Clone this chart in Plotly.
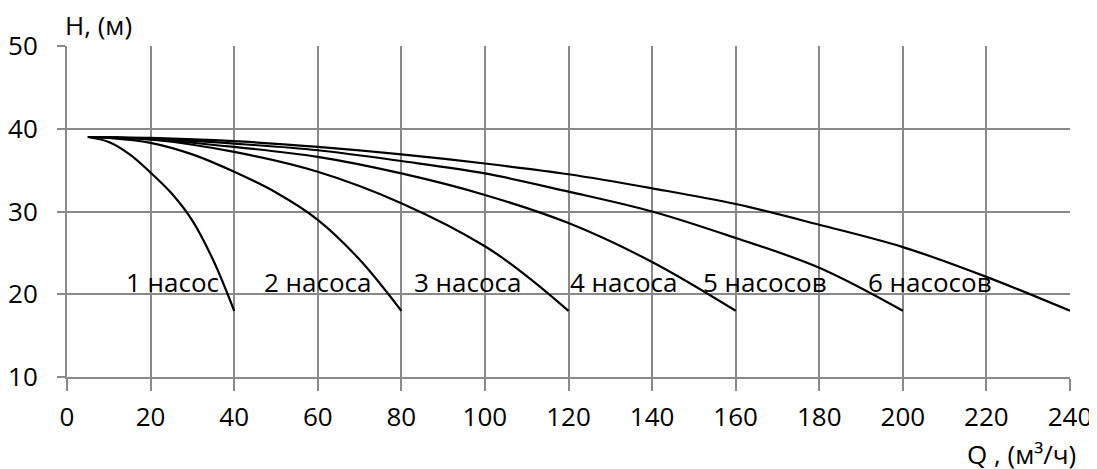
import plotly.graph_objects as go

# Data
q_1 = [5, 10, 15, 20, 25, 30, 35, 40]
h_1 = [39, 38.4, 36.9, 34.7, 32.2, 28.9, 24.1, 18]

q_2 = [5, 10, 20, 30, 40, 50, 60, 70, 80]
h_2 = [39, 38.9, 38.3, 36.9, 34.8, 32.3, 29.0, 24.2, 18]

q_3 = [5, 20, 40, 60, 80, 100, 110, 120]
h_3 = [39, 38.7, 37.2, 34.8, 31.0, 25.8, 22.2, 18]

q_4 = [5, 20, 40, 60, 80, 100, 120, 140, 160]
h_4 = [39, 38.7, 37.8, 36.6, 34.6, 32.0, 28.6, 23.9, 18]

q_5 = [5, 20, 40, 60, 80, 100, 120, 140, 160, 180, 200]
h_5 = [39, 38.8, 38.2, 37.4, 36.1, 34.6, 32.4, 30.0, 26.8, 23.2, 18]

q_6 = [5, 20, 40, 60, 80, 100, 120, 140, 160, 180, 200, 220, 240]
h_6 = [39, 38.9, 38.5, 37.8, 36.9, 35.8, 34.5, 32.8, 30.9, 28.4, 25.7, 22.1, 18]

labels = ["1 насос", "2 насоса", "3 насоса", "4 насоса", "5 насосов", "6 насосов"]
label_q = [25.2, 60.1, 96.0, 133.3, 167.1, 206.5]
label_h = [21.5, 21.5, 21.5, 21.5, 21.5, 21.5]

x_ticks = list(range(0, 241, 20))
y_ticks = [10, 20, 30, 40, 50]

FONT = "Open Sans"
FS = 26
GRID = "#898989"

fig = go.Figure()
for q, h in [(q_1, h_1), (q_2, h_2), (q_3, h_3), (q_4, h_4), (q_5, h_5), (q_6, h_6)]:
    fig.add_trace(go.Scatter(x=q, y=h, mode="lines",
                             line=dict(color="black", width=2.2, shape="spline", smoothing=1.0),
                             showlegend=False, hoverinfo="skip"))

for t, xq, yh in zip(labels, label_q, label_h):
    fig.add_annotation(x=xq, y=yh, text=t, showarrow=False, xanchor="center", yanchor="middle",
                       font=dict(family=FONT, size=FS, color="black"))

fig.add_annotation(xref="paper", yref="paper", x=0, y=1, text="H, (м)", showarrow=False,
                   xanchor="left", yanchor="middle", yshift=21, xshift=-4,
                   font=dict(family=FONT, size=FS, color="black"))
fig.add_annotation(xref="paper", yref="paper", x=1, y=0, text="Q , (м³/ч)", showarrow=False,
                   xanchor="right", yanchor="middle", yshift=-77, xshift=8,
                   font=dict(family=FONT, size=FS, color="black"))

fig.update_xaxes(range=[0, 240], tickvals=x_ticks, ticktext=[str(v) for v in x_ticks],
                 showgrid=True, gridcolor=GRID, gridwidth=2, showline=True, linecolor=GRID, linewidth=2,
                 ticks="outside", ticklen=12, tickwidth=2, tickcolor=GRID, zeroline=False, automargin=False,
                 tickfont=dict(family=FONT, size=FS, color="black"), ticklabelstandoff=4)
fig.update_yaxes(range=[10, 50], tickvals=y_ticks, ticktext=[str(v) for v in y_ticks],
                 showgrid=True, gridcolor=GRID, gridwidth=2, showline=True, linecolor=GRID, linewidth=2,
                 ticks="outside", ticklen=8, tickwidth=2, tickcolor=GRID, zeroline=False, automargin=False,
                 tickfont=dict(family=FONT, size=FS, color="black"), ticklabelstandoff=14)

# page body has an 8px margin, so the figure is sized and offset to fill the 1097x469 window
fig.update_layout(width=1089, height=461, margin=dict(l=59, r=27, t=38, b=92, autoexpand=False),
                  plot_bgcolor="white", paper_bgcolor="white", showlegend=False)

fig.write_html("out.html")
